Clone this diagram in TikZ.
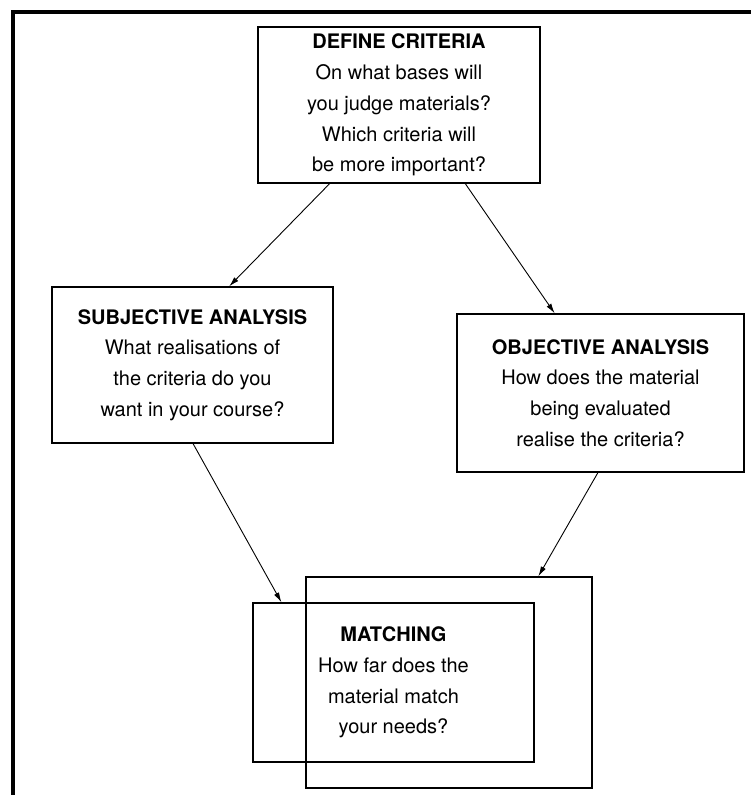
\documentclass[tikz,border=0pt]{standalone}
\usepackage{fontspec}
\setmainfont{TeX Gyre Heros}
\usetikzlibrary{calc,arrows.meta}
\begin{document}
\begin{tikzpicture}[x=1pt,y=-1pt,
  box/.style={draw, line width=1.3pt, rectangle, inner sep=0pt, align=center,
    font=\fontsize{20}{30.8}\selectfont},
  arr/.style={line width=0.9pt, -{Latex[length=10pt,width=5.5pt]}}]
\useasboundingbox (0,0) rectangle (750,795);
\draw[line width=4pt] (13,800) -- (13,12) -- (755,12);

\node[box, minimum width=282pt, minimum height=156pt] (def) at (399,105)
  {\textbf{DEFINE CRITERIA}\\On what bases will\\you judge materials?\\Which criteria will\\be more important?};
\node[box, minimum width=281pt, minimum height=156pt] (subj) at (192.5,365)
  {\textbf{SUBJECTIVE ANALYSIS}\\What realisations of\\the criteria do you\\want in your course?};
\node[box, minimum width=287pt, minimum height=158pt] (obj) at (600.5,393)
  {\textbf{OBJECTIVE ANALYSIS}\\How does the material\\being evaluated\\realise the criteria?};
\node[box, minimum width=286pt, minimum height=211pt] (back) at (449,682.5) {};
\node[box, minimum width=281pt, minimum height=159pt] (match) at (393.5,682.5)
  {\textbf{MATCHING}\\How far does the\\material match\\your needs?};

\coordinate (d1) at ($(def.south west)!0.255!(def.south east)$);
\coordinate (d2) at ($(def.south west)!0.734!(def.south east)$);
\coordinate (s1) at ($(subj.north west)!0.63!(subj.north east)$);
\coordinate (o1) at ($(obj.north west)!0.341!(obj.north east)$);
\coordinate (s2) at ($(subj.south west)!0.502!(subj.south east)$);
\coordinate (o2) at ($(obj.south west)!0.491!(obj.south east)$);
\coordinate (m1) at ($(match.north west)!0.103!(match.north east)$);
\coordinate (b1) at ($(back.north west)!0.811!(back.north east)$);

\draw[arr] (d1) -- (s1);
\draw[arr] (d2) -- (o1);
\draw[arr] (s2) -- (m1);
\draw[arr] (o2) -- (b1);
\end{tikzpicture}
\end{document}
